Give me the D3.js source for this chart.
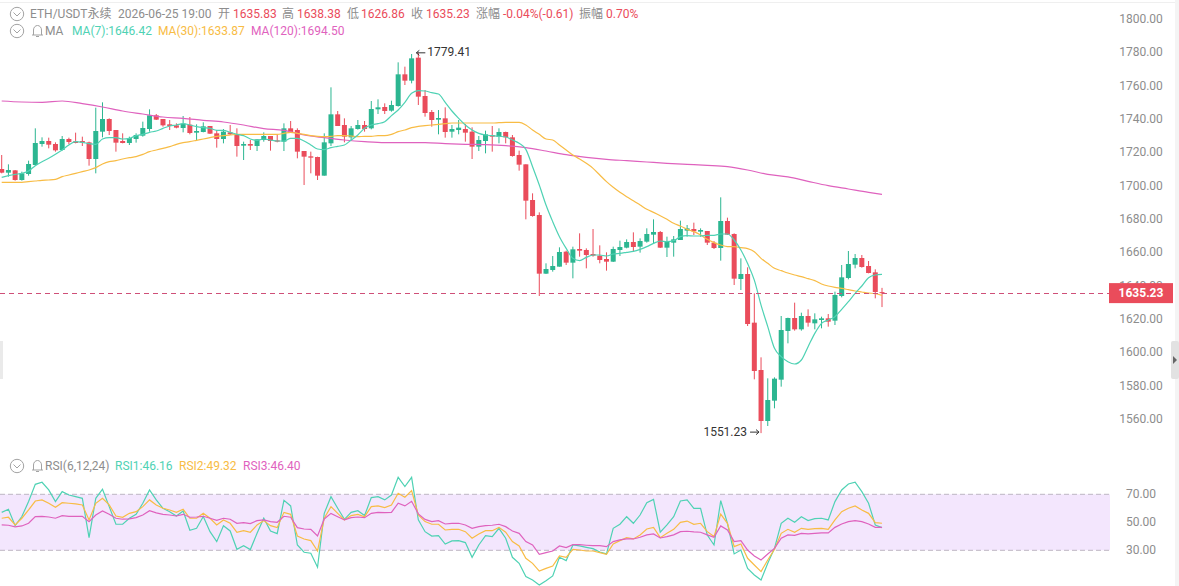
<!DOCTYPE html>
<html>
<head>
<meta charset="utf-8">
<title>ETH/USDT</title>
<script src="https://cdn.jsdelivr.net/npm/d3@7/dist/d3.min.js"></script>
<style>
html,body{margin:0;padding:0;background:#fff;overflow:hidden}
svg{display:block}
text{font-family:Roboto,"Noto Sans CJK SC",sans-serif;font-size:12px}
</style>
</head>
<body>
<svg id="chart" width="1179" height="586"></svg>
<script>
// ETH/USDT perpetual, hourly candles
const opens = [
1709.7,1707.5,1708.9,1703.1,1706.7,1712.1,1724.7,1726.5,1724.7,1721.1,
1727.7,1726.3,1726.5,1725.7,1715.7,1732.1,1739.7,1733.1,1726.5,1725.3,
1727.7,1729.7,1733.7,1741.9,1739.7,1736.5,1735.9,1734.3,1736.3,1731.5,
1731.9,1735.5,1731.1,1727.7,1731.7,1730.5,1723.7,1724.7,1723.5,1727.1,
1729.5,1726.9,1726.1,1734.1,1733.1,1720.5,1717.3,1716.9,1705.7,1725.1,
1742.5,1736.1,1728.7,1733.7,1736.1,1734.1,1745.5,1746.9,1744.7,1747.5,
1766.5,1762.7,1776.5,1753.5,1743.9,1739.3,1740.1,1732.1,1733.1,1733.7,
1732.1,1723.1,1726.5,1730.1,1729.1,1731.9,1728.7,1718.1,1712.5,1691.1,
1682.1,1646.9,1649.1,1651.1,1660.1,1653.5,1661.7,1661.1,1658.7,1657.7,
1655.7,1654.1,1661.1,1662.5,1665.9,1663.1,1666.1,1670.3,1671.9,1662.5,
1665.5,1667.1,1672.7,1673.7,1672.1,1672.5,1665.5,1662.3,1678.5,1670.7,
1643.7,1646.7,1617.5,1589.1,1558.5,1570.7,1583.3,1612.5,1620.3,1613.5,
1621.5,1617.1,1619.1,1620.1,1618.7,1633.5,1644.3,1652.3,1656.3,1651.5,1647.7,1635.83];
const closes = [
1707.5,1709.1,1703.1,1707.1,1712.7,1725.3,1726.5,1724.3,1720.9,1727.7,
1725.9,1725.3,1725.5,1715.7,1732.5,1739.7,1732.5,1725.5,1725.3,1728.3,
1730.1,1734.3,1741.9,1739.3,1735.9,1735.5,1734.5,1736.9,1731.3,1732.5,
1735.3,1730.9,1727.7,1732.1,1730.5,1723.5,1724.7,1723.7,1727.5,1729.5,
1726.5,1726.1,1734.1,1731.9,1720.1,1717.1,1716.5,1705.7,1725.7,1742.5,
1735.5,1729.1,1734.1,1736.1,1733.7,1745.7,1746.7,1744.5,1748.1,1766.5,
1762.7,1776.1,1753.1,1743.3,1739.1,1740.3,1731.9,1733.7,1734.5,1731.5,
1723.1,1727.1,1730.5,1729.1,1731.9,1728.7,1717.5,1712.3,1690.7,1681.5,
1646.9,1649.7,1651.5,1659.9,1653.5,1661.5,1660.7,1658.1,1657.7,1655.1,
1654.1,1661.7,1662.9,1665.9,1662.9,1666.5,1670.7,1671.9,1662.5,1666.1,
1667.5,1673.7,1674.1,1672.3,1673.1,1665.5,1662.3,1678.5,1670.3,1643.9,
1646.7,1616.7,1588.5,1558.5,1571.1,1583.9,1613.1,1620.3,1613.5,1621.5,
1617.5,1619.5,1620.1,1618.1,1634.1,1644.7,1652.7,1656.3,1650.9,1647.3,1635.9,1635.23];
const highs = [
1718.1,1712.5,1709.1,1708.1,1714.7,1734.1,1728.7,1728.5,1725.7,1729.5,
1728.5,1731.5,1729.1,1726.1,1746.5,1749.7,1740.1,1733.1,1731.1,1729.1,
1731.1,1738.1,1745.5,1742.7,1739.7,1739.1,1737.1,1741.5,1740.9,1736.5,
1737.7,1735.5,1733.1,1733.7,1736.1,1734.1,1726.1,1727.1,1727.5,1731.7,
1729.5,1730.5,1737.1,1738.5,1734.1,1720.5,1720.1,1717.1,1731.1,1758.7,
1744.5,1740.1,1735.5,1739.1,1738.5,1750.5,1751.5,1749.1,1750.7,1773.7,
1771.1,1778.7,1779.41,1757.1,1745.1,1745.1,1746.7,1736.1,1739.1,1736.7,
1734.7,1729.5,1732.7,1735.5,1734.1,1732.1,1730.1,1720.7,1712.5,1695.1,
1683.7,1653.1,1657.5,1662.7,1660.7,1663.1,1671.1,1662.1,1673.7,1663.9,
1659.7,1663.1,1666.7,1667.5,1671.7,1668.1,1674.1,1679.5,1672.5,1669.1,
1669.5,1678.7,1676.1,1677.5,1674.1,1672.5,1666.5,1692.7,1680.5,1671.1,
1656.1,1650.7,1635.1,1596.7,1584.1,1584.7,1621.5,1620.5,1629.5,1623.5,
1625.5,1623.1,1621.1,1622.7,1636.1,1652.1,1660.5,1658.7,1658.1,1654.5,1649.5,1638.38];
const lows = [
1707.1,1705.1,1702.7,1702.7,1705.7,1711.7,1723.1,1722.1,1720.1,1720.7,
1724.5,1725.1,1723.5,1711.7,1707.1,1728.7,1730.1,1720.1,1725.1,1724.1,
1725.5,1729.1,1732.1,1739.1,1735.1,1733.1,1734.1,1731.7,1730.5,1727.1,
1731.7,1730.7,1722.5,1725.1,1730.1,1717.1,1715.1,1721.1,1720.5,1726.1,
1720.7,1725.7,1720.5,1731.7,1716.1,1700.1,1707.1,1703.1,1705.7,1723.5,
1735.5,1725.7,1726.5,1733.3,1732.1,1733.5,1742.7,1742.7,1744.1,1747.1,
1760.1,1761.1,1748.1,1741.1,1735.1,1730.5,1728.5,1728.5,1730.5,1726.1,
1715.7,1720.5,1719.1,1720.1,1725.1,1725.1,1717.1,1708.7,1679.5,1681.1,
1633.5,1646.7,1648.1,1651.1,1652.1,1644.1,1657.1,1650.1,1657.1,1653.1,
1648.7,1653.9,1657.5,1662.1,1660.1,1659.5,1665.5,1665.1,1662.3,1656.9,
1657.1,1667.1,1669.1,1670.1,1669.1,1664.1,1661.7,1654.7,1670.1,1640.1,
1637.1,1615.5,1583.5,1551.23,1555.5,1566.1,1579.1,1605.1,1612.7,1612.7,
1615.1,1613.5,1614.1,1615.1,1616.1,1632.7,1643.5,1650.1,1650.5,1647.1,1632.1,1626.86];

const ma7 = [
1704.7,1705.7,1706.5,1707.1,1708.5,1711.7,1714.1,1716.1,1718.5,1721.1,
1724.1,1726.1,1725.7,1724.9,1724.5,1727.7,1728.5,1728.5,1727.7,1728.1,
1729.7,1730.5,1731.7,1732.5,1734.1,1735.5,1736.1,1736.9,1736.1,1735.1,
1734.5,1734.1,1732.9,1732.9,1731.7,1730.5,1729.7,1727.7,1726.9,1727.7,
1727.1,1726.5,1726.5,1728.1,1728.1,1726.5,1724.1,1721.7,1721.3,1722.5,
1723.3,1724.1,1727.1,1730.1,1734.1,1736.1,1736.9,1738.1,1741.7,1745.1,
1749.7,1755.1,1756.7,1756.5,1755.5,1754.7,1749.7,1744.5,1740.1,1736.1,
1733.1,1731.1,1730.1,1729.7,1729.3,1728.9,1727.1,1725.1,1721.5,1711.1,
1700.1,1688.1,1678.1,1669.1,1662.1,1656.1,1654.7,1656.7,1658.1,1658.1,
1657.5,1658.7,1659.1,1659.7,1660.3,1661.5,1663.1,1665.1,1666.5,1666.1,
1666.7,1669.1,1669.7,1669.5,1669.5,1669.9,1669.9,1670.7,1670.7,1667.1,
1661.1,1653,1643,1628,1615.1,1602.1,1597.1,1594.1,1592.7,1595.1,
1603.1,1611.1,1617.1,1619.1,1621.1,1625.5,1630.1,1635.1,1639.5,1644.5,1646.1,1646.42];
const ma30 = [
1701.7,1701.7,1701.7,1701.7,1702.1,1702.5,1702.9,1703.1,1703.5,1705.1,
1706.1,1707.1,1708.1,1709.1,1710.5,1712.7,1714.1,1714.7,1715.7,1716.5,
1717.1,1718.5,1720.1,1721.1,1722.1,1723.1,1724.5,1725.5,1726.1,1726.9,
1727.7,1728.5,1729.3,1729.7,1730.1,1730.5,1730.5,1730.5,1730.5,1730.5,
1730.5,1730.5,1731.1,1731.7,1731.1,1730.5,1729.7,1729.3,1729.1,1729.3,
1729.7,1729.7,1729.5,1729.1,1729.3,1729.3,1729.7,1729.7,1730.5,1732.1,
1733.1,1734.5,1735.3,1735.7,1736.1,1736.5,1736.9,1737.3,1737.3,1737.3,
1737.3,1737.3,1737.3,1737.3,1737.5,1737.7,1737.7,1737.7,1736.1,1733.1,
1730.5,1727.7,1727.1,1724.1,1721.1,1718.1,1715.7,1713.1,1710.1,1706.1,
1702.1,1698.7,1695.7,1693.1,1690.7,1688.1,1685.5,1683.7,1681.7,1679.5,
1677.1,1675.5,1673.5,1672.1,1670.1,1667.5,1665.5,1664.1,1663.1,1663.1,
1662.5,1661.9,1660.1,1656.1,1653.1,1650.1,1648.7,1647.3,1646.1,1645.1,
1643.9,1642.7,1640.7,1639.5,1638.7,1638.1,1637.3,1636.5,1635.9,1635.3,1634.9,1633.87];
const ma120Bars = [0,3,6,9,12,15,18,21,24,27,30,33,36,39,42,45,48,51,54,57,60,63,66,69,72,75,78,81,84,87,90,93,96,99,102,105,108,111,114,117,120,123,126,129,131];
const ma120 = [
1750.5,1749.9,1749.7,1750.5,1748.9,1746.9,1744.5,1742.7,1740.9,1740.1,
1738.9,1737.9,1736.1,1733.9,1732.9,1730.1,1728.5,1727.1,1726.1,1725.5,
1725.5,1725.5,1724.9,1724.5,1724.3,1723.7,1722.5,1720.5,1718.3,1716.7,
1715.5,1714.7,1713.9,1713.1,1712.5,1711.9,1711.1,1709.1,1706.5,1705,
1702.3,1699.7,1697.7,1695.7,1694.5];

const rsi1 = [
57.1,59.3,47.6,54.1,64.8,77.1,78.6,73.1,64.8,71.9,
69.5,68.3,67.1,39.0,67.1,73.6,61.2,48.6,48.6,52.9,
55.7,63.6,73.1,66.0,60.0,57.6,54.5,58.1,44.3,45.7,
54.1,43.3,36.2,47.6,43.8,30.7,33.3,30.5,42.1,52.9,
43.8,41.9,65.7,61.7,33.8,28.6,27.9,17.9,56.4,68.3,
60.0,52.1,57.1,58.3,54.8,67.6,68.3,66.0,69.5,82.1,
75.5,82.1,51.7,43.3,40.2,40.5,34.5,36.7,36.9,35.5,
25.0,33.8,40.5,39.8,45.7,38.6,25.0,20.7,11.2,8.8,
5.2,8.3,11.7,25.0,22.6,33.8,33.1,32.1,31.2,28.8,
27.4,45.7,48.6,54.0,49.3,55.2,64.0,66.4,42.9,48.1,
54.0,65.2,66.0,60.0,60.0,40.9,33.8,65.5,49.3,27.4,
30.2,17.1,12.4,8.8,20.7,31.4,49.3,52.9,50.0,54.0,
51.2,52.6,52.9,51.7,64.8,73.1,77.4,78.6,71.9,63.6,48.1,46.16];
const rsi2 = [
52.9,53.6,48.1,52.9,58.8,65.2,66.0,63.6,60.7,64.0,
63.6,63.1,62.4,51.7,63.6,67.1,62.4,54.5,53.6,56.4,
57.6,61.2,66.0,62.4,60.0,58.8,57.1,59.3,52.9,52.9,
56.4,52.9,48.1,51.7,49.3,42.9,44.0,42.9,48.1,51.2,
47.6,46.2,57.1,55.7,40.2,38.1,36.9,29.5,52.9,61.2,
56.4,51.7,54.8,55.7,54.0,61.2,61.7,60.5,62.4,70.7,
67.9,72.6,55.2,50.5,48.6,48.6,44.5,45.0,45.0,43.3,
38.6,41.7,44.0,44.0,46.4,42.9,36.2,33.1,24.3,20.7,
15.2,17.1,18.8,26.0,25.0,30.7,30.2,29.5,29.5,28.3,
27.1,34.5,36.9,39.0,38.1,41.0,45.2,46.4,39.0,42.1,
45.0,50.0,50.9,48.6,49.3,43.3,39.8,55.9,49.3,32.6,
34.5,24.3,19.5,14.8,23.1,30.7,42.1,45.0,42.9,45.7,
45.0,45.5,45.7,45.0,51.7,57.6,60.0,61.7,58.8,56.4,49.8,49.32];
const rsi3 = [
48.1,47.9,46.7,47.4,49.3,54.1,54.3,53.8,52.9,54.8,
54.3,54.3,54.3,50.5,55.2,58.1,55.7,52.9,52.2,52.4,
53.3,55.2,58.3,56.7,55.7,55.2,54.5,55.7,53.6,53.8,
54.3,52.9,51.4,52.9,52.2,49.3,49.8,49.1,51.2,51.7,
50.5,50.0,54.3,53.6,46.2,45.2,45.0,40.2,52.4,56.4,
54.0,51.7,53.3,53.8,53.3,56.4,57.1,56.9,57.1,63.6,
61.7,65.0,56.0,52.1,50.5,51.2,48.8,49.3,49.3,48.1,
45.7,46.9,47.6,47.9,48.6,46.9,43.8,42.1,36.2,33.8,
27.1,28.3,29.5,33.1,31.9,34.0,34.0,33.6,33.3,33.3,
32.6,36.2,37.4,38.1,38.1,39.3,41.0,41.7,38.8,39.8,
41.0,43.3,43.6,43.1,42.9,41.0,39.3,47.4,44.5,36.2,
36.9,30.2,26.0,23.1,27.4,31.4,38.6,41.0,40.7,42.1,
41.7,42.1,42.4,42.4,46.4,48.8,50.5,51.2,50.5,48.8,46.4,46.40];

const priceTicks = [1800,1780,1760,1740,1720,1700,1680,1660,1640,1620,1600,1580,1560];
const rsiTicks = [70,50,30];
const lastPrice = 1635.23;
const rsiBand = [30,70];

const GREY = "#8d8d8d", RED = "#ea4c5b", GREEN = "#2cb691";
const TEAL = "#4fd2b4", AMBER = "#f8bc45", PINK = "#df62be";

const headerRow = [
  ["ETH/USDT永续",30,GREY],["2026-06-25 19:00",118,GREY],
  ["开",218,GREY],["1635.83",233,RED],["高",282,GREY],["1638.38",297,RED],
  ["低",347,GREY],["1626.86",361,RED],["收",411,GREY],["1635.23",426,RED],
  ["涨幅",476,GREY],["-0.04%(-0.61)",503,RED],["振幅",579,GREY],["0.70%",606,RED]
];
const maRow = [["MA",45,GREY],["MA(7):1646.42",72,TEAL],["MA(30):1633.87",158,AMBER],["MA(120):1694.50",251,PINK]];
const rsiRow = [["RSI(6,12,24)",45,GREY],["RSI1:46.16",115,TEAL],["RSI2:49.32",179,AMBER],["RSI3:46.40",243,PINK]];

const svg = d3.select("#chart");
const bars = d3.range(opens.length);

const x = d3.scaleLinear().domain([0, bars.length - 1]).range([1.7, 882]);
const y = d3.scaleLinear().domain([1560, 1800]).range([418.5, 18.5]);
const yRsi = d3.scaleLinear().domain(rsiBand).range([550.3, 494.3]);
const BODY = 5;

// top hairline and the grey edge strip beside the price axis
svg.append("rect").attr("x",0).attr("y",2).attr("width",1179).attr("height",1).attr("fill","#efefef");
svg.append("rect").attr("x",1175).attr("y",0).attr("width",4).attr("height",586).attr("fill","#f4f4f4");

// RSI overbought / oversold band
svg.append("rect").attr("x",0).attr("width",1110)
  .attr("y",yRsi(rsiBand[1])).attr("height",yRsi(rsiBand[0])-yRsi(rsiBand[1]))
  .attr("fill","#f3e6fd");
svg.selectAll(".band-edge").data(rsiBand).join("line").attr("class","band-edge")
  .attr("x1",0).attr("x2",1110).attr("y1",d=>yRsi(d)).attr("y2",d=>yRsi(d))
  .attr("stroke","#bdb6c2").attr("stroke-width",1).attr("stroke-dasharray","5,3");

// candles
const candle = svg.append("g").selectAll("g").data(bars).join("g")
  .attr("fill",i=>closes[i]>=opens[i]?GREEN:RED)
  .attr("stroke",i=>closes[i]>=opens[i]?GREEN:RED);
candle.append("line")
  .attr("x1",i=>x(i)).attr("x2",i=>x(i))
  .attr("y1",i=>y(highs[i])).attr("y2",i=>y(lows[i]))
  .attr("stroke-width",1);
candle.append("rect")
  .attr("stroke","none")
  .attr("x",i=>x(i)-BODY/2).attr("width",BODY)
  .attr("y",i=>y(Math.max(opens[i],closes[i])))
  .attr("height",i=>Math.max(1,Math.abs(y(opens[i])-y(closes[i]))));

// moving averages
const maLine = d3.line().x(d=>x(d[0])).y(d=>y(d[1])).curve(d3.curveMonotoneX);
const maSeries = [
  [bars.map(i=>[i,ma120[ma120Bars.indexOf(i)]]).filter(d=>d[1]!==undefined), PINK],
  [bars.map(i=>[i,ma30[i]]), AMBER],
  [bars.map(i=>[i,ma7[i]]), TEAL]
];
svg.append("g").attr("fill","none").attr("stroke-width",1.2)
  .selectAll("path").data(maSeries).join("path")
  .attr("d",d=>maLine(d[0])).attr("stroke",d=>d[1]);

// RSI lines
const rsiLine = d3.line().x((d,i)=>x(i)).y(d=>yRsi(d));
svg.append("g").attr("fill","none").attr("stroke-width",1.2)
  .selectAll("path").data([[rsi1,TEAL],[rsi2,AMBER],[rsi3,PINK]]).join("path")
  .attr("d",d=>rsiLine(d[0])).attr("stroke",d=>d[1]);

// price and RSI axes
const axisStyle = g => {
  g.select(".domain").remove();
  g.selectAll("text").attr("fill",GREY).attr("text-anchor","middle").attr("x",0).attr("dy","0.34em").style("font-size","12px").style("font-family","Roboto");
  g.selectAll("line").remove();
};
svg.append("g").attr("transform","translate(1141,0)")
  .call(d3.axisRight(y).tickValues(priceTicks).tickFormat(d3.format(".2f")).tickSize(0))
  .call(axisStyle);
svg.append("g").attr("transform","translate(1141,-0.8)")
  .call(d3.axisRight(yRsi).tickValues(rsiTicks).tickFormat(d3.format(".2f")).tickSize(0))
  .call(axisStyle);

// last price marker
const lastY = Math.floor(y(lastPrice)) + 0.5;
svg.append("line").attr("x1",0).attr("x2",1110).attr("y1",lastY).attr("y2",lastY)
  .attr("stroke","#cf4f78").attr("stroke-width",1).attr("stroke-dasharray","5,4");
svg.append("rect").attr("x",1109).attr("y",y(lastPrice)-10).attr("width",64).attr("height",20).attr("fill",RED);
svg.append("text").attr("x",1141).attr("y",y(lastPrice)).attr("dy","0.35em").attr("text-anchor","middle")
  .attr("fill","#fff").attr("font-weight","700").text(d3.format(".2f")(lastPrice));

// extreme labels
const hiBar = highs.indexOf(d3.max(highs)), loBar = lows.indexOf(d3.min(lows));
const arrow = (x1,x2,yy) => {
  const dir = x2>x1?-3:3;
  svg.append("path").attr("fill","none").attr("stroke","#333").attr("stroke-width",1)
    .attr("d",`M${x1},${yy}H${x2}M${x2+dir},${yy-2.5}L${x2},${yy}L${x2+dir},${yy+2.5}`);
};
arrow(x(hiBar)+7,x(hiBar)-2,y(highs[hiBar]));
svg.append("text").attr("x",x(hiBar)+9).attr("y",y(highs[hiBar])-1).attr("dy","0.35em").attr("fill","#333")
  .text(d3.format(".2f")(highs[hiBar]));
arrow(x(loBar)-11,x(loBar)-2,y(lows[loBar])-1);
svg.append("text").attr("x",x(loBar)-14).attr("y",y(lows[loBar])-1).attr("dy","0.35em").attr("text-anchor","end").attr("fill","#333")
  .text(d3.format(".2f")(lows[loBar]));

// legend rows
const row = (items,yy) => svg.append("g").selectAll("text").data(items).join("text")
  .attr("x",d=>d[1]).attr("y",yy).attr("dy","0.35em").attr("fill",d=>d[2]).text(d=>d[0]);
row(headerRow,14); row(maRow,31); row(rsiRow,466);

// collapse chevrons and alert bells
const chevron = yy => {
  svg.append("circle").attr("cx",17).attr("cy",yy).attr("r",6.7).attr("fill","none").attr("stroke","#a3a3a3");
  svg.append("path").attr("fill","none").attr("stroke","#a3a3a3").attr("d",`M13.5,${yy-1.5}L17,${yy+2}L20.5,${yy-1.5}`);
};
const bell = yy => svg.append("path").attr("fill","none").attr("stroke","#a3a3a3")
  .attr("d",`M32,${yy+4}H43M33.5,${yy+4}V${yy-1}A4,4.5 0 0 1 41.5,${yy-1}V${yy+4}M36,${yy+5.5}H39`);
chevron(14); chevron(31); bell(31);
chevron(466); bell(466);

// pane resize handles
svg.append("rect").attr("x",0).attr("y",341).attr("width",3).attr("height",38).attr("fill","#eaeaea");
svg.append("rect").attr("x",1171).attr("y",341).attr("width",8).attr("height",38).attr("rx",2).attr("fill","#e2e2e2");
svg.append("path").attr("d","M1173,356L1177,360L1173,364Z").attr("fill","#666");
</script>
</body>
</html>
